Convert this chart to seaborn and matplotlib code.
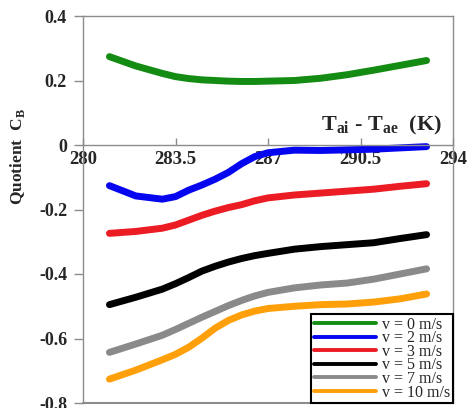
import matplotlib
matplotlib.use("Agg")
import matplotlib.pyplot as plt
from matplotlib.lines import Line2D
import pandas as pd
import seaborn as sns

# temperature difference T_ai - T_ae (K)
temp_diff = [281, 282, 283, 283.5, 284, 284.5, 285, 285.5, 286, 286.5,
             287, 288, 289, 290, 291, 292, 293]

# quotient C_B per wind speed
cb_v0 = [0.274, 0.245, 0.222, 0.212, 0.206, 0.202, 0.200, 0.198, 0.197, 0.197,
         0.198, 0.200, 0.207, 0.218, 0.232, 0.247, 0.262]
cb_v2 = [-0.126, -0.158, -0.168, -0.160, -0.140, -0.124, -0.106, -0.085, -0.058, -0.036,
         -0.024, -0.016, -0.017, -0.015, -0.013, -0.009, -0.005]
cb_v3 = [-0.274, -0.268, -0.258, -0.248, -0.233, -0.218, -0.205, -0.194, -0.185, -0.173,
         -0.164, -0.155, -0.149, -0.143, -0.137, -0.128, -0.120]
cb_v5 = [-0.495, -0.472, -0.447, -0.430, -0.411, -0.391, -0.376, -0.363, -0.352, -0.343,
         -0.336, -0.323, -0.315, -0.309, -0.303, -0.290, -0.278]
cb_v7 = [-0.643, -0.617, -0.590, -0.572, -0.553, -0.534, -0.516, -0.498, -0.482, -0.468,
         -0.457, -0.443, -0.434, -0.428, -0.416, -0.400, -0.384]
cb_v10 = [-0.726, -0.698, -0.666, -0.649, -0.627, -0.599, -0.568, -0.544, -0.527, -0.515,
          -0.507, -0.500, -0.495, -0.493, -0.487, -0.477, -0.462]

speed_labels = ["v = 0 m/s", "v = 2 m/s", "v = 3 m/s",
                "v = 5 m/s", "v = 7 m/s", "v = 10 m/s"]
line_colors = ["#148c14", "#0505f0", "#ec1c24", "#000000", "#8a8a8a", "#ffa00a"]

x_ticks = [280, 283.5, 287, 290.5, 294]
x_tick_labels = ["280", "283.5", "287", "290.5", "294"]
y_ticks = [-0.8, -0.6, -0.4, -0.2, 0, 0.2, 0.4]
y_tick_labels = ["-0.8", "-0.6", "-0.4", "-0.2", "0", "0.2", "0.4"]

all_series = [cb_v0, cb_v2, cb_v3, cb_v5, cb_v7, cb_v10]
df = pd.concat(
    [pd.DataFrame({"dT": temp_diff, "CB": vals, "speed": lab})
     for vals, lab in zip(all_series, speed_labels)],
    ignore_index=True,
)

sns.set_theme(style="white")
plt.rcParams["font.family"] = ["Liberation Serif", "DejaVu Serif"]
plt.rcParams["mathtext.fontset"] = "custom"
plt.rcParams["mathtext.rm"] = "Liberation Serif:bold"
plt.rcParams["mathtext.bf"] = "Liberation Serif:bold"

spine_col = "#8c8c8c"

fig = plt.figure(figsize=(4.69, 4.08), dpi=100)
ax = fig.add_axes([83 / 469, 5 / 408, 370 / 469, 387 / 408])

sns.lineplot(data=df, x="dT", y="CB", hue="speed", hue_order=speed_labels,
             palette=dict(zip(speed_labels, line_colors)), linewidth=5,
             solid_capstyle="round", solid_joinstyle="round", legend=False, ax=ax)

ax.set_xlim(280, 294)
ax.set_ylim(-0.8, 0.4)

# x axis crosses at zero, box kept around the plot
ax.spines["bottom"].set_position(("data", 0))
for s in ax.spines.values():
    s.set_color(spine_col)
    s.set_linewidth(1)
ax.axhline(-0.8, color=spine_col, lw=1.5, clip_on=False)

ax.set_xticks(x_ticks)
ax.set_xticklabels(x_tick_labels, fontsize=13.5, fontweight="bold")
ax.set_yticks(y_ticks)
ax.set_yticklabels(y_tick_labels, fontsize=13, fontweight="bold")
ax.tick_params(axis="x", direction="in", length=5, width=1, color=spine_col, pad=4,
               bottom=True)
ax.tick_params(axis="y", direction="out", length=6.5, width=1, color=spine_col, pad=5,
               left=True)

ax.set_xlabel("")
ax.set_ylabel("")
ax.text(293.6, 0.045, "T$_\\mathbf{ai}$ - T$_\\mathbf{ae}$  (K)", fontsize=16,
        fontweight="bold", ha="right", va="baseline")
ax.text(-0.178, 0.636, "Quotient  C$_\\mathbf{B}$", fontsize=12.5, fontweight="bold",
        rotation=90, ha="center", va="center", transform=ax.transAxes)

handles = [Line2D([0], [0], color=c, lw=2.8) for c in line_colors]
leg = ax.legend(handles, speed_labels, loc="lower right", bbox_to_anchor=(1, 0),
                borderaxespad=0, fontsize=11.5, labelspacing=-0.15, handlelength=3.9,
                handletextpad=0.4, borderpad=0.15, fancybox=False, framealpha=1)
leg.get_frame().set_edgecolor("black")
leg.get_frame().set_linewidth(1.5)

fig.savefig("out.png", dpi=100)
